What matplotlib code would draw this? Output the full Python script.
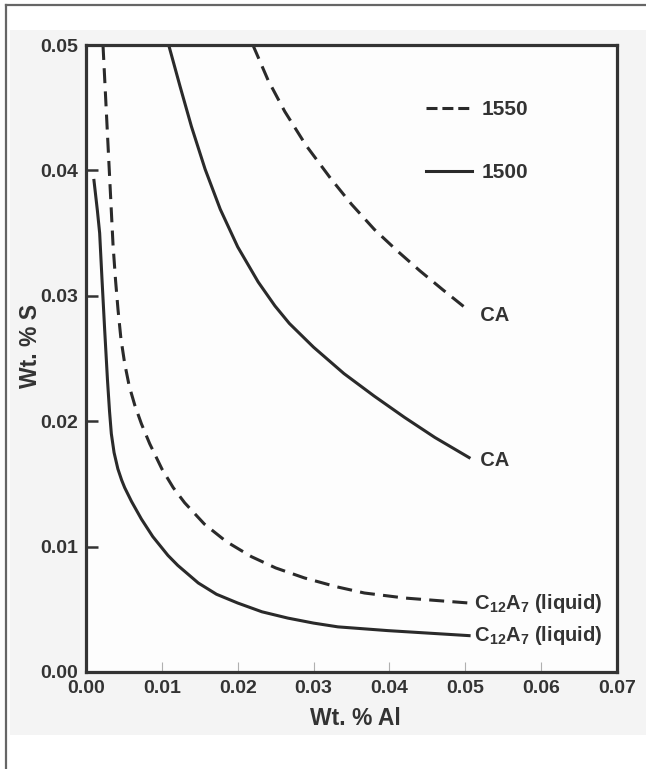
import matplotlib
matplotlib.use("Agg")
import matplotlib.pyplot as plt
from matplotlib.patches import Rectangle
from matplotlib.lines import Line2D

plt.rcParams['font.family'] = ['Liberation Sans', 'DejaVu Sans']
plt.rcParams['font.weight'] = 'bold'
plt.rcParams['mathtext.fontset'] = 'custom'
plt.rcParams['mathtext.rm'] = 'Liberation Sans:bold'
plt.rcParams['mathtext.it'] = 'Liberation Sans:bold'
plt.rcParams['mathtext.bf'] = 'Liberation Sans:bold'
plt.rcParams['mathtext.default'] = 'rm'

# ---- data (Wt.% Al, Wt.% S) ----
c12a7_1500_x = [0.00105, 0.0015, 0.0018, 0.00211, 0.00246, 0.00283, 0.0031, 0.00334,
                0.0037, 0.0042, 0.0047, 0.0051, 0.0060, 0.0073, 0.0088, 0.0108,
                0.0121, 0.0148, 0.0172, 0.0200, 0.0232, 0.0266, 0.0300, 0.0332,
                0.0398, 0.0505]
c12a7_1500_y = [0.0392, 0.0368, 0.0350, 0.0313, 0.0273, 0.0233, 0.0208, 0.0190,
                0.0175, 0.0162, 0.0153, 0.0147, 0.0136, 0.0122, 0.0108, 0.0093,
                0.0085, 0.0071, 0.0062, 0.0055, 0.0048, 0.0043, 0.0039, 0.0036,
                0.0033, 0.0029]

c12a7_1550_x = [0.00224, 0.00268, 0.00312, 0.00356, 0.0039, 0.00422, 0.0046, 0.0051,
                0.0057, 0.00642, 0.0073, 0.0084, 0.0100, 0.0115, 0.0130, 0.0156,
                0.0185, 0.0218, 0.0250, 0.0288, 0.0330, 0.0367, 0.0420, 0.0505]
c12a7_1550_y = [0.0500, 0.0447, 0.0394, 0.0341, 0.0312, 0.0289, 0.0266, 0.0246,
                0.0228, 0.0213, 0.0198, 0.0182, 0.0162, 0.0147, 0.0135, 0.0118,
                0.0104, 0.0092, 0.0083, 0.0075, 0.0068, 0.0063, 0.0059, 0.0055]

ca_1500_x = [0.0109, 0.0124, 0.0139, 0.0157, 0.0177, 0.0200, 0.0227, 0.0249,
             0.0268, 0.0300, 0.0340, 0.0380, 0.0420, 0.0460, 0.0505]
ca_1500_y = [0.0500, 0.0467, 0.0435, 0.0401, 0.0369, 0.0339, 0.0311, 0.0292,
             0.0278, 0.0259, 0.0238, 0.0220, 0.0203, 0.0187, 0.0171]

ca_1550_x = [0.0220, 0.0240, 0.0262, 0.0290, 0.0322, 0.0350, 0.0380, 0.0410,
             0.0440, 0.0470, 0.0505]
ca_1550_y = [0.0500, 0.0472, 0.0447, 0.0420, 0.0394, 0.0373, 0.0353, 0.0336,
             0.0320, 0.0305, 0.0288]

x_ticks = [0.00, 0.01, 0.02, 0.03, 0.04, 0.05, 0.06, 0.07]
y_ticks = [0.00, 0.01, 0.02, 0.03, 0.04, 0.05]
x_ticklabels = ['0.00', '0.01', '0.02', '0.03', '0.04', '0.05', '0.06', '0.07']
y_ticklabels = ['0.00', '0.01', '0.02', '0.03', '0.04', '0.05']
legend_labels = ['1550', '1500']
c12a7_label = 'C$_{12}$A$_{7}$ (liquid)'
ca_label = 'CA'

# ---- figure ----
W, H = 646, 769
fig = plt.figure(figsize=(W / 100, H / 100), dpi=100, facecolor='white')
fig.patches.append(Rectangle((10 / W, 1 - 735 / H), 1 - 10 / W, (735 - 30) / H,
                             transform=fig.transFigure, facecolor='#f4f4f4',
                             edgecolor='none', zorder=-10))
fig.lines.append(Line2D([6 / W, 1.0], [1 - 5 / H, 1 - 5 / H], transform=fig.transFigure,
                        color='#666666', lw=1.6))
fig.lines.append(Line2D([6 / W, 6 / W], [0.0, 1 - 5 / H], transform=fig.transFigure,
                        color='#666666', lw=1.6))

ax = fig.add_axes([86 / W, 1 - 672 / H, (617 - 86) / W, (672 - 45) / H])
ax.set_facecolor('#fdfdfd')

col = '#2a2a2a'
lw = 2.2
dash = (0, (4.9, 2.7))

ax.plot(c12a7_1550_x, c12a7_1550_y, color=col, lw=lw, linestyle=dash,
        dash_capstyle='butt', dash_joinstyle='round')
ax.plot(ca_1550_x, ca_1550_y, color=col, lw=lw, linestyle=dash,
        dash_capstyle='butt', dash_joinstyle='round')
ax.plot(c12a7_1500_x, c12a7_1500_y, color=col, lw=lw, solid_joinstyle='round')
ax.plot(ca_1500_x, ca_1500_y, color=col, lw=lw, solid_joinstyle='round')

ax.set_xlim(0, 0.07)
ax.set_ylim(0, 0.05)

for s in ax.spines.values():
    s.set_linewidth(2.3)
    s.set_color('#333333')

ax.set_xticks(x_ticks)
ax.set_xticklabels(x_ticklabels)
ax.set_yticks(y_ticks)
ax.set_yticklabels(y_ticklabels)
ax.tick_params(axis='x', direction='in', length=7, width=0.8, color='#b0b0b0',
               pad=5.5, labelsize=14, labelcolor='#333333')
ax.tick_params(axis='y', direction='in', length=8.5, width=1.8, color='#333333',
               pad=5.5, labelsize=14, labelcolor='#333333')

ax.set_xlabel('Wt. % Al', fontsize=16.5, fontweight='bold', color='#333333', va='center')
ax.xaxis.set_label_coords(0.507, -0.0735)
ax.set_ylabel('Wt. % S', fontsize=16.5, fontweight='bold', color='#333333', va='center')
ax.yaxis.set_label_coords(-0.104, 0.52)

# end labels
ax.text(c12a7_1550_x[-1], c12a7_1550_y[-1], ' ' + c12a7_label, fontsize=14.5,
        color='#333333', ha='left', va='center')
ax.text(c12a7_1500_x[-1], c12a7_1500_y[-1], ' ' + c12a7_label, fontsize=14.5,
        color='#333333', ha='left', va='center')
ax.text(ca_1550_x[-1], ca_1550_y[-1] - 0.0004, '  ' + ca_label, fontsize=14.5,
        color='#333333', ha='left', va='center')
ax.text(ca_1500_x[-1], ca_1500_y[-1] - 0.0002, '  ' + ca_label, fontsize=14.5,
        color='#333333', ha='left', va='center')

h1550 = Line2D([], [], color=col, lw=lw, linestyle=(0, (3.6, 1.6)), dash_capstyle='butt')
h1500 = Line2D([], [], color=col, lw=lw)
leg = ax.legend([h1550, h1500], legend_labels, loc='upper left',
                bbox_to_anchor=(0.640, 0.912), frameon=False, fontsize=15,
                handlelength=2.2, handletextpad=0.5, labelspacing=2.1,
                borderpad=0, borderaxespad=0)
for t in leg.get_texts():
    t.set_color('#333333')

fig.savefig('out.png', dpi=100, facecolor=fig.get_facecolor())
